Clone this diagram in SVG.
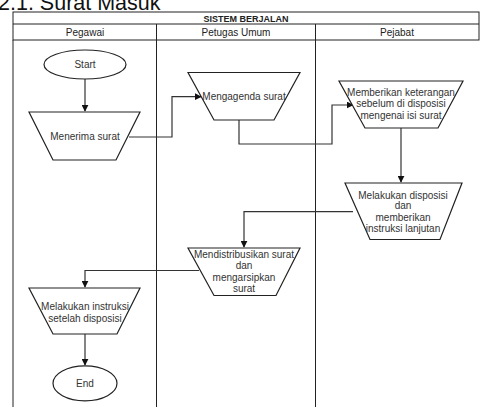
<svg xmlns="http://www.w3.org/2000/svg" width="481" height="407" viewBox="0 0 481 407">
<style>
.t{font-family:"Liberation Sans",Arial,sans-serif;font-size:10px;fill:#333;text-anchor:middle}
.h{font-family:"Liberation Sans",Arial,sans-serif;font-size:10px;fill:#222;text-anchor:middle}
.shape{fill:#fff;stroke:#222;stroke-width:1.2}
.lane{fill:none;stroke:#222;stroke-width:1}
.c{fill:none;stroke:#333;stroke-width:1.2}
</style>
<defs>
<marker id="a" viewBox="0 0 10 10" refX="9" refY="5" markerWidth="7" markerHeight="7" orient="auto" markerUnits="userSpaceOnUse"><path d="M0,0 L10,5 L0,10 Z" fill="#111"/></marker>
</defs>
<rect width="481" height="407" fill="#fff"/>
<text x="-2" y="10" style="font-family:'Liberation Sans',Arial,sans-serif;font-size:21.5px;fill:#111">2.1. Surat Masuk</text>
<g id="pool">
<rect x="13" y="12" width="466" height="28" class="lane"/>
<line x1="13" y1="24" x2="479" y2="24" class="lane" stroke="#777"/>
<line x1="13" y1="40" x2="13" y2="407" class="lane"/>
<line x1="156.5" y1="24" x2="156.5" y2="407" class="lane"/>
<line x1="315.5" y1="24" x2="315.5" y2="407" class="lane"/>
<text x="246" y="21.5" class="h" style="font-weight:bold;font-size:9px">SISTEM BERJALAN</text>
<text x="85" y="35.5" class="h">Pegawai</text>
<text x="236" y="35.5" class="h">Petugas Umum</text>
<text x="397" y="35.5" class="h">Pejabat</text>
</g>
<g id="connectors">
<path d="M85,79 V111" class="c" marker-end="url(#a)"/>
<path d="M129,137 H172 V96.7 H201" class="c" marker-end="url(#a)"/>
<path d="M239,120 V144 H332 V105 H353" class="c" marker-end="url(#a)"/>
<path d="M401,128 V182" class="c" marker-end="url(#a)"/>
<path d="M353,211.7 H244 V247" class="c" marker-end="url(#a)"/>
<path d="M199,270.5 H85 V287" class="c" marker-end="url(#a)"/>
<path d="M85,334 V365" class="c" marker-end="url(#a)"/>
</g>
<g id="start">
<ellipse cx="85" cy="64.5" rx="41" ry="14.5" class="shape" stroke-width="1.5"/>
<text x="85" y="68" class="t">Start</text>
</g>
<g id="menerima">
<polygon points="29,112 140,112 116,160 53,160" class="shape"/>
<text x="85" y="140" class="t">Menerima surat</text>
</g>
<g id="mengagenda">
<polygon points="188,72.5 300,72.5 274,120 214,120" class="shape"/>
<text x="244" y="100" class="t">Mengagenda surat</text>
</g>
<g id="memberikan">
<polygon points="339,81 463,81 438,128 365,128" class="shape"/>
<text x="401" y="95.5" class="t">Memberikan keterangan</text>
<text x="401" y="107" class="t">sebelum di disposisi</text>
<text x="401" y="119" class="t">mengenai isi surat</text>
</g>
<g id="disposisi">
<polygon points="345,183 462,183 440,239.5 370,239.5" class="shape"/>
<text x="403" y="198.5" class="t">Melakukan disposisi</text>
<text x="403" y="209" class="t">dan</text>
<text x="403" y="220.5" class="t">memberikan</text>
<text x="403" y="231.5" class="t">instruksi lanjutan</text>
</g>
<g id="distribusi">
<polygon points="188,248 300,248 276,295.5 214,295.5" class="shape"/>
<text x="244" y="257.5" class="t">Mendistribusikan surat</text>
<text x="244" y="268.5" class="t">dan</text>
<text x="244" y="281" class="t">mengarsipkan</text>
<text x="244" y="291.5" class="t">surat</text>
</g>
<g id="instruksi">
<polygon points="29,288 140,288 117,334 53,334" class="shape"/>
<text x="85" y="310" class="t">Melakukan instruksi</text>
<text x="85" y="321.5" class="t">setelah disposisi</text>
</g>
<g id="end">
<ellipse cx="85" cy="383.3" rx="32" ry="17.5" class="shape" stroke-width="1.5"/>
<text x="85" y="387" class="t">End</text>
</g>
</svg>
